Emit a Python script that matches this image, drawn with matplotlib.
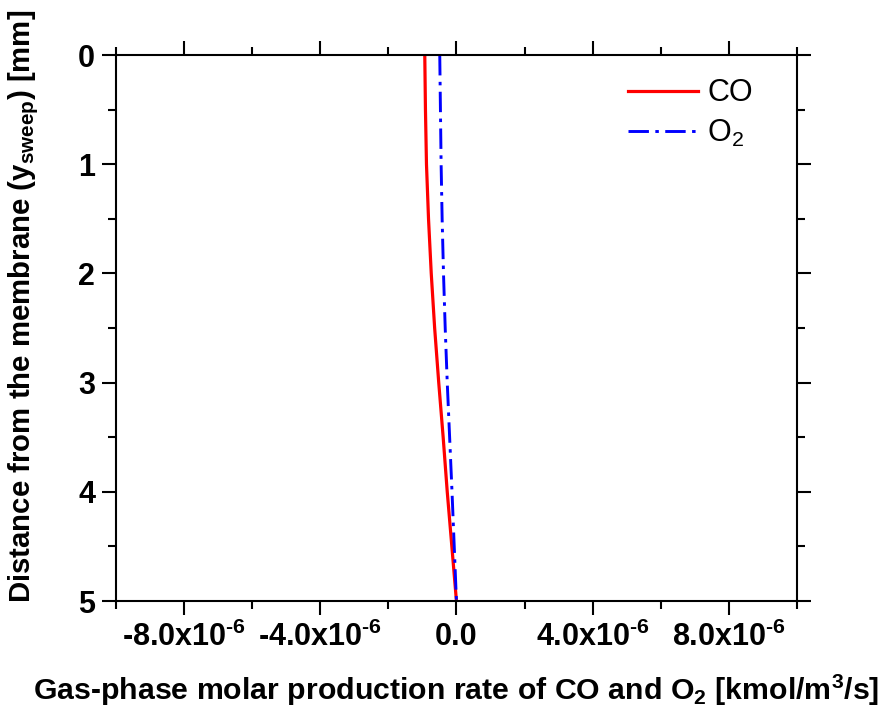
import matplotlib
matplotlib.use("Agg")
import matplotlib.pyplot as plt
from matplotlib.ticker import FixedLocator, FuncFormatter

plt.rcParams['font.family'] = ['Liberation Sans', 'DejaVu Sans']
plt.rcParams['mathtext.fontset'] = 'custom'
plt.rcParams['mathtext.rm'] = 'Liberation Sans:bold'
plt.rcParams['mathtext.bf'] = 'Liberation Sans:bold'
plt.rcParams['mathtext.it'] = 'Liberation Sans:italic'
plt.rcParams['axes.unicode_minus'] = False

# Data (distance in mm, rate in kmol/m3/s)
distance = [0.0, 0.5, 1.0, 1.5, 2.0, 2.5, 3.0, 3.5, 4.0, 4.5, 5.0]
co_rate = [-0.93e-6, -0.91e-6, -0.88e-6, -0.82e-6, -0.74e-6, -0.64e-6,
           -0.52e-6, -0.39e-6, -0.27e-6, -0.135e-6, 0.0]
o2_rate = [-0.49e-6, -0.47e-6, -0.45e-6, -0.42e-6, -0.38e-6, -0.33e-6,
           -0.27e-6, -0.20e-6, -0.13e-6, -0.065e-6, 0.0]

x_major = [-8e-6, -4e-6, 0.0, 4e-6, 8e-6]
x_minor = [-1e-5, -6e-6, -2e-6, 2e-6, 6e-6, 1e-5]
y_major = [0, 1, 2, 3, 4, 5]
y_minor = [0.5, 1.5, 2.5, 3.5, 4.5]

fig = plt.figure(figsize=(8.85, 7.19), dpi=100)
ax = fig.add_axes([0.131, 0.1641, 0.7695, 0.7594])

ax.plot(co_rate, distance, color='#ff0000', lw=2.3, label='CO')
ax.plot(o2_rate, distance, color='#0000ff', lw=2.1,
        linestyle=(0, (7, 2.2, 1.2, 2.2)), label=r'O$_\mathregular{2}$')

ax.set_xlim(-1e-5, 1e-5)
ax.set_ylim(5, 0)

def xfmt(v, pos):
    if abs(v) < 1e-12:
        return '0.0'
    m = v / 1e-6
    return '%.1fx10$^{\\text{-}\\mathbf{6}}$' % m

ax.xaxis.set_major_locator(FixedLocator(x_major))
ax.xaxis.set_minor_locator(FixedLocator(x_minor))
ax.xaxis.set_major_formatter(FuncFormatter(xfmt))
ax.yaxis.set_major_locator(FixedLocator(y_major))
ax.yaxis.set_minor_locator(FixedLocator(y_minor))

ax.tick_params(which='both', direction='out', top=True, right=True,
               labeltop=False, labelright=False, width=1.5, color='black')
ax.tick_params(which='major', length=10, labelsize=22, pad=5)
ax.tick_params(which='minor', length=6)
ax.tick_params(axis='y', which='major', labelsize=22, pad=5)

for lab in ax.get_xticklabels() + ax.get_yticklabels():
    lab.set_fontweight('bold')

for s in ax.spines.values():
    s.set_linewidth(1.5)

ax.set_xlabel(r'Gas-phase molar production rate of CO and O$_\mathbf{2}$ [kmol/m$^\mathbf{3}$/s]',
              fontsize=21.8, fontweight='bold', labelpad=14)
ax.set_ylabel(r'Distance from the membrane (y$_\mathbf{sweep}$) [mm]',
              fontsize=21.2, fontweight='bold')
ax.yaxis.set_label_coords(-0.110, 0.540)

leg = ax.legend(loc='upper right', frameon=False, fontsize=22,
                handlelength=2.3, handletextpad=0.3, labelspacing=0.3,
                borderaxespad=0, borderpad=0,
                bbox_to_anchor=(0.935, 0.957))
for t in leg.get_texts():
    t.set_fontweight('normal')

fig.savefig('out.png', dpi=100)
